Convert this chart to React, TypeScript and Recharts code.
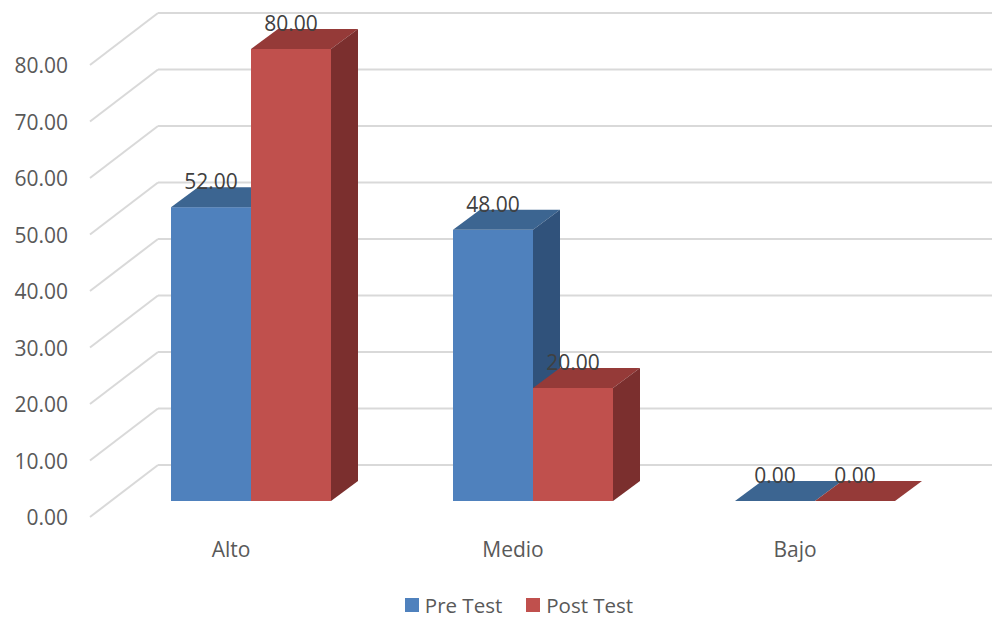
import React from 'react';
import { BarChart, Bar, XAxis, YAxis, CartesianGrid, LabelList, Legend } from 'recharts';

const categories = ['Alto', 'Medio', 'Bajo'];
const preTest = [52, 48, 0];
const postTest = [80, 20, 0];
const yTicks = [0, 10, 20, 30, 40, 50, 60, 70, 80];

const data = categories.map((name, i) => ({ name, pre: preTest[i], post: postTest[i] }));

const FONT = '"Open Sans", "Noto Sans", sans-serif';
const DX = 27;
const DY = 20;

const BLUE = { front: '#4F81BD', top: '#3C6591', side: '#30527B' };
const RED = { front: '#C0504D', top: '#953A38', side: '#7B2F2E' };

const makeBar = (c: typeof BLUE) => (p: any) => {
  const { x, y, width, height } = p;
  const h = Math.max(0, height || 0);
  return (
    <g>
      <rect x={x} y={y} width={width} height={h} fill={c.front} />
      <polygon
        points={`${x},${y} ${x + DX},${y - DY} ${x + width + DX},${y - DY} ${x + width},${y}`}
        fill={c.top}
      />
      <polygon
        points={`${x + width},${y} ${x + width + DX},${y - DY} ${x + width + DX},${y + h - DY} ${x + width},${y + h}`}
        fill={c.side}
      />
    </g>
  );
};

const gridLine = (p: any) => {
  const y = p.y1;
  return (
    <g key={p.key}>
      <line x1={158} y1={y - 36} x2={992} y2={y - 36} stroke="#D9D9D9" strokeWidth={2} />
      <line x1={90} y1={y + 16} x2={158} y2={y - 36} stroke="#D9D9D9" strokeWidth={2} />
    </g>
  );
};

const valueLabel = (p: any) => (
  <text
    x={p.x + p.width / 2}
    y={p.y - 26}
    textAnchor="middle"
    dominantBaseline="central"
    fontFamily={FONT}
    fontSize={21}
    fill="#404040"
  >
    {Number(p.value).toFixed(2)}
  </text>
);

const yTick = (p: any) => (
  <text x={68} y={p.y + 16} textAnchor="end" dominantBaseline="central" fontFamily={FONT} fontSize={21} fill="#595959">
    {Number(p.payload.value).toFixed(2)}
  </text>
);

const xTick = (p: any) => (
  <text x={p.x - 20} y={549} textAnchor="middle" dominantBaseline="central" fontFamily={FONT} fontSize={21} fill="#595959">
    {p.payload.value}
  </text>
);

const legendContent = () => (
  <div style={{ display: 'flex', justifyContent: 'center', alignItems: 'center', height: 30, fontFamily: FONT, fontSize: 20.5, color: '#595959' }}>
    <span style={{ display: 'inline-block', width: 14, height: 14, background: BLUE.front, marginRight: 6 }} />
    <span style={{ marginRight: 24 }}>Pre Test</span>
    <span style={{ display: 'inline-block', width: 14, height: 14, background: RED.front, marginRight: 6 }} />
    <span>Post Test</span>
  </div>
);

export default function App() {
  return (
    <div style={{ position: 'absolute', left: 0, top: 0, width: 992, height: 618, background: '#fff' }}>
      <BarChart
        width={992}
        height={618}
        data={data}
        margin={{ top: 49, right: 36, left: 0, bottom: 27 }}
        barGap={0}
        barSize={80}
      >
        <CartesianGrid vertical={false} horizontal={gridLine} />
        <XAxis dataKey="name" axisLine={false} tickLine={false} height={60} tick={xTick} />
        <YAxis domain={[0, 80]} ticks={yTicks} width={110} axisLine={false} tickLine={false} tick={yTick} />
        <Legend verticalAlign="bottom" content={legendContent} wrapperStyle={{ top: 590, left: 23, width: 992 }} />
        <Bar dataKey="pre" name="Pre Test" fill={BLUE.front} shape={makeBar(BLUE)} isAnimationActive={false}>
          <LabelList dataKey="pre" content={valueLabel} />
        </Bar>
        <Bar dataKey="post" name="Post Test" fill={RED.front} shape={makeBar(RED)} isAnimationActive={false}>
          <LabelList dataKey="post" content={valueLabel} />
        </Bar>
      </BarChart>
    </div>
  );
}
